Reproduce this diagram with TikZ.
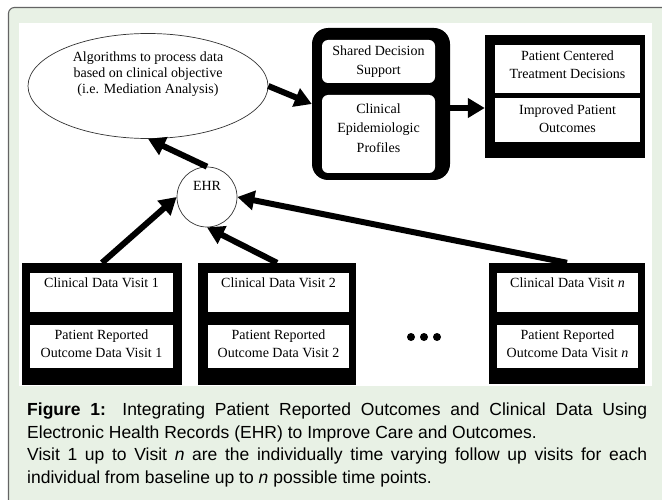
\documentclass[tikz,border=0pt]{standalone}
\usepackage{fontspec}
\setmainfont{Liberation Serif}
\newfontfamily\capfont{Liberation Sans}
\usetikzlibrary{arrows.meta,shapes.geometric}
\definecolor{bggreen}{RGB}{232,241,229}
\definecolor{framegray}{RGB}{100,100,100}
\begin{document}
\begin{tikzpicture}[x=1pt,y=-1pt,
  bigarrow/.style={line width=6pt,-{Triangle[length=17pt,width=19pt]}},
  txt/.style={font=\fontsize{14}{18}\selectfont, align=center, inner sep=0pt},
  whitebox/.style={fill=white, inner sep=0pt, draw=none},
  blackbox/.style={fill=black, inner sep=0pt, draw=none},
  dot/.style={circle, fill=black, inner sep=0pt, minimum size=8pt}]
\useasboundingbox (0,0) rectangle (662,500);
\clip (0,0) rectangle (662,500);
\fill[white] (0,0) rectangle (662,500);
\draw[framegray, fill=bggreen, line width=1.1pt, rounded corners=6pt] (8.5,7.5) rectangle (700,540);
\fill[white] (19,23) rectangle (652,386);

% ellipse
\node[ellipse, draw=black!80, fill=white, line width=0.7pt, minimum width=240pt, minimum height=105pt, inner sep=0pt] (alg) at (148,86) {};
\node[txt, font=\fontsize{14}{16}\selectfont] (algtext) at (148,74) {Algorithms to process data\\based on clinical objective\\(i.e. Mediation Analysis)};

% shared decision box
\node[blackbox, rounded corners=16pt, minimum width=138pt, minimum height=152pt] (sdbox) at (381,104) {};
\node[whitebox, rounded corners=6pt, minimum width=113pt, minimum height=43pt] (sds) at (378.5,61.5) {};
\node[txt, font=\fontsize{14}{19}\selectfont] (sdstext) at (378.5,62) {Shared Decision\\Support};
\node[whitebox, rounded corners=6pt, minimum width=113pt, minimum height=78pt] (cep) at (378.5,134) {};
\node[txt, font=\fontsize{14}{19.5}\selectfont] (ceptext) at (378.5,128) {Clinical\\Epidemiologic\\Profiles};

% outcome box
\node[blackbox, minimum width=160pt, minimum height=123pt] (outbox) at (565,96.5) {};
\node[whitebox, minimum width=145pt, minimum height=48pt] (pct) at (567.5,69) {};
\node[txt] (pcttext) at (567.5,65) {Patient Centered\\Treatment Decisions};
\node[whitebox, minimum width=145pt, minimum height=44pt] (ipo) at (567.5,120) {};
\node[txt] (ipotext) at (567.5,119) {Improved Patient\\Outcomes};

% EHR
\node[circle, draw=black!80, fill=white, line width=0.7pt, minimum size=60pt, inner sep=0pt] (ehr) at (207,197) {};
\node[txt] (ehrtext) at (207,186) {EHR};

% visit 1
\node[blackbox, minimum width=160pt, minimum height=122pt] (box1) at (102,324) {};
\node[whitebox, minimum width=143pt, minimum height=39pt] (cd1) at (101.5,292.5) {};
\node[txt] (cd1text) at (101.5,283) {Clinical Data Visit 1};
\node[whitebox, minimum width=143pt, minimum height=43pt] (pr1) at (101.5,346.5) {};
\node[txt] (pr1text) at (101.5,344) {Patient Reported\\Outcome Data Visit 1};

% visit 2
\node[blackbox, minimum width=158pt, minimum height=122pt] (box2) at (277,324) {};
\node[whitebox, minimum width=141pt, minimum height=39pt] (cd2) at (278.5,292.5) {};
\node[txt] (cd2text) at (278.5,283) {Clinical Data Visit 2};
\node[whitebox, minimum width=141pt, minimum height=43pt] (pr2) at (278.5,346.5) {};
\node[txt] (pr2text) at (278.5,344) {Patient Reported\\Outcome Data Visit 2};

% visit n
\node[blackbox, minimum width=156pt, minimum height=121pt] (boxn) at (567,323.5) {};
\node[whitebox, minimum width=141pt, minimum height=39pt] (cdn) at (567.5,292.5) {};
\node[txt] (cdntext) at (567.5,283) {Clinical Data Visit \textit{n}};
\node[whitebox, minimum width=141pt, minimum height=43pt] (prn) at (567.5,346.5) {};
\node[txt] (prntext) at (567.5,344) {Patient Reported\\Outcome Data Visit \textit{n}};

% dots
\node[dot] (d1) at (411,337) {};
\node[dot] (d2) at (424,337) {};
\node[dot] (d3) at (437,337) {};

% arrows
\draw[bigarrow] (alg.east) -- (sdbox.west);
\draw[bigarrow] ([yshift=-4pt]sdbox.east) -- ([yshift=-4pt]sdbox.east -| outbox.west);
\draw[bigarrow] (ehr.north) -- (alg.south);
\draw[bigarrow] (box1.north) -- (ehr.west);
\draw[bigarrow] (box2.north) -- (ehr.south);
\draw[bigarrow] (boxn.north) -- (ehr.east);

% caption
\node[anchor=north west, inner sep=0pt, text width=620pt, align=justify,
  font=\capfont\fontsize{17.5}{22.5}\selectfont] (caption) at (27,403)
  {\setlength{\parindent}{0pt}\textbf{Figure 1:} Integrating Patient Reported Outcomes and Clinical Data Using\linebreak Electronic Health Records (EHR) to Improve Care and Outcomes.\par Visit 1 up to Visit \textit{n} are the individually time varying follow up visits for each\linebreak individual from baseline up to \textit{n} possible time points.};
\end{tikzpicture}
\end{document}
